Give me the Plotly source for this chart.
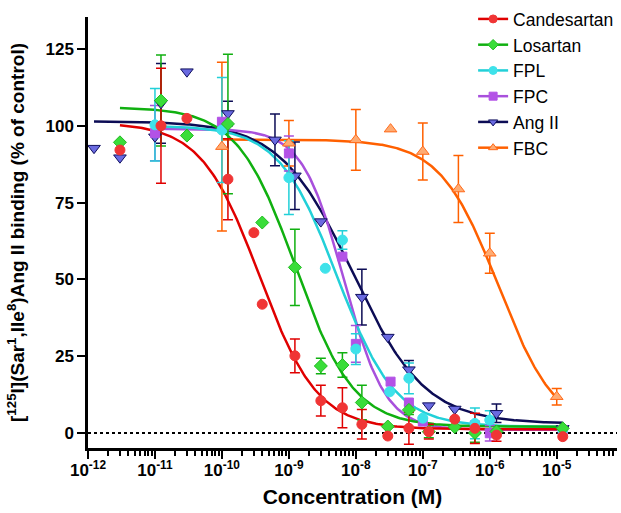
import numpy as np
import plotly.graph_objects as go

# ---------------- data ----------------
series_names = ["Candesartan", "Losartan", "FPL", "FPC", "Ang II", "FBC"]

cand_conc = [3.0e-12, 1.23e-11, 3.0e-11, 1.23e-10, 3.0e-10, 4.0e-10, 1.23e-9, 3.0e-9, 6.3e-9,
             1.23e-8, 3.0e-8, 6.2e-8, 1.23e-7, 3.0e-7, 6.0e-7, 1.26e-6, 1.23e-5]
cand_y = [92.1, 100.0, 102.4, 82.6, 65.2, 41.9, 25.1, 10.5, 8.2, 2.8, -1.0, 1.5, 0.4, 4.5, 1.5, -0.7, -1.2]
cand_err = [None, 18.7, None, 13.2, None, None, 5.5, 5.0, 6.5, 4.8, None, 5.2, 2.4, None, 4.9, 2.0, None]

los_conc = [3.0e-12, 1.23e-11, 3.0e-11, 1.23e-10, 4.0e-10, 1.23e-9, 3.0e-9, 6.3e-9, 1.23e-8,
            3.0e-8, 6.2e-8, 1.23e-7, 3.0e-7, 6.0e-7, 1.26e-6, 1.23e-5]
los_y = [94.6, 108.2, 96.8, 100.6, 68.5, 53.9, 21.8, 22.1, 9.9, 2.1, 7.5, 0.4, 1.9, 0.0, 0.5, 1.5]
los_err = [None, 14.8, None, 22.7, None, 12.4, 2.5, 4.0, 5.6, None, 1.5, 2.0, None, 3.0, None, None]

fpl_conc = [1.0e-11, 1.0e-10, 1.0e-9, 3.5e-9, 6.3e-9, 1.0e-8, 3.2e-8, 6.2e-8, 1.0e-7, 6.0e-7, 1.0e-6, 1.23e-5]
fpl_y = [100.3, 98.6, 83.1, 53.6, 62.8, 27.3, 13.4, 17.8, 4.8, 3.1, 4.2, 1.0]
fpl_err = [11.8, 17.1, 12.0, None, 3.0, 5.0, None, 5.0, None, 5.0, 3.0, None]

fpc_conc = [1.0e-11, 1.0e-10, 1.0e-9, 6.3e-9, 1.0e-8, 3.3e-8, 6.2e-8, 1.0e-7, 6.0e-7, 1.0e-6, 1.23e-5]
fpc_y = [97.6, 101.3, 91.0, 57.4, 29.0, 16.7, 9.9, 3.7, 2.5, -0.1, 1.0]
fpc_err = [9.0, None, 5.7, None, 6.0, None, None, None, None, 2.5, None]

ang_conc = [1.23e-12, 3.0e-12, 1.0e-11, 1.23e-11, 3.0e-11, 1.23e-10, 6.2e-10, 1.23e-9, 3.0e-9,
            1.23e-8, 3.0e-8, 6.2e-8, 1.23e-7, 3.0e-7, 1.26e-6, 1.23e-5]
ang_y = [92.7, 89.6, 96.4, 107.3, 117.6, 104.0, 95.4, 83.7, 68.8, 44.2, 31.2, 20.6, 8.9, 7.8, 6.4, 1.5]
ang_err = [None, None, None, 13.0, None, 4.0, 8.4, 11.0, None, 9.1, None, 3.0, None, None, 3.0, None]

fbc_conc = [1.0e-10, 1.0e-9, 1.0e-8, 3.3e-8, 1.0e-7, 3.4e-7, 1.0e-6, 1.0e-5]
fbc_y = [93.2, 94.3, 95.4, 98.9, 91.6, 79.4, 58.5, 11.8]
fbc_err = [27.5, 7.4, 9.85, None, 9.3, 10.9, 6.5, 2.7]

# fitted one-site competition curves (parameters)
fit_top = [101.0, 106.0, 100.0, 99.0, 101.5, 95.5]
fit_bottom = [1.2, 2.0, 2.0, 1.0, 3.0, 0.0]
fit_logic50 = [-9.44, -8.90, -8.28, -8.18, -8.05, -5.87]
fit_hill = [1.0, 1.0, 1.0, 1.4, 0.8, 1.0]

x_tick_vals = [1e-12, 1e-11, 1e-10, 1e-9, 1e-8, 1e-7, 1e-6, 1e-5]
x_tick_text = ["10<sup>-12</sup>", "10<sup>-11</sup>", "10<sup>-10</sup>", "10<sup>-9</sup>",
               "10<sup>-8</sup>", "10<sup>-7</sup>", "10<sup>-6</sup>", "10<sup>-5</sup>"]
y_tick_vals = [0, 25, 50, 75, 100, 125]

# ---------------- styles ----------------
concs = [cand_conc, los_conc, fpl_conc, fpc_conc, ang_conc, fbc_conc]
ys = [cand_y, los_y, fpl_y, fpc_y, ang_y, fbc_y]
errs = [cand_err, los_err, fpl_err, fpc_err, ang_err, fbc_err]
line_colors = ["#e00000", "#10b010", "#22d0d8", "#a850dc", "#0c0c55", "#ff6000"]
fill_colors = ["#f03535", "#3add3a", "#3ee2ea", "#b352e6", "#6a6ae0", "#ffab72"]
edge_colors = ["#f03535", "#22bb22", "#3ee2ea", "#b352e6", "#10105e", "#ff6a1a"]
symbols = ["circle", "diamond", "circle", "square", "triangle-down", "triangle-up"]
sizes = [10, 10, 10, 9, 11, 11]

FONT = "Arial, Liberation Sans, Helvetica, sans-serif"

fig = go.Figure()

draw_order = [5, 4, 3, 2, 1, 0]
for i in draw_order:
    c = np.array(concs[i])
    lx = np.linspace(np.log10(c.min()), np.log10(c.max()), 300)
    yc = fit_bottom[i] + (fit_top[i] - fit_bottom[i]) / (1 + 10 ** ((lx - fit_logic50[i]) * fit_hill[i]))
    fig.add_trace(go.Scatter(x=10 ** lx, y=yc, mode="lines",
                             line=dict(color=line_colors[i], width=2.5),
                             showlegend=False, hoverinfo="skip"))
for i in draw_order:
    ex = [x for x, e in zip(concs[i], errs[i]) if e is not None]
    ey = [y for y, e in zip(ys[i], errs[i]) if e is not None]
    ee = [e for e in errs[i] if e is not None]
    fig.add_trace(go.Scatter(x=ex, y=ey, mode="markers",
                             marker=dict(size=1, opacity=0),
                             error_y=dict(type="data", array=ee, visible=True,
                                          color=line_colors[i], thickness=1.5, width=5),
                             showlegend=False, hoverinfo="skip"))
for i in draw_order:
    fig.add_trace(go.Scatter(x=concs[i], y=ys[i], mode="markers",
                             marker=dict(symbol=symbols[i], size=sizes[i], color=fill_colors[i],
                                         line=dict(color=edge_colors[i], width=1)),
                             showlegend=False, name=series_names[i]))
# legend entries
for i in range(6):
    fig.add_trace(go.Scatter(x=[None], y=[None], mode="lines+markers", name=series_names[i],
                             line=dict(color=line_colors[i], width=2.5),
                             marker=dict(symbol=symbols[i], size=8, color=fill_colors[i],
                                         line=dict(color=edge_colors[i], width=1)),
                             legendrank=i + 1))

minor_vals = [k * 10.0 ** n for n in range(-12, -4) for k in range(2, 10)]

fig.update_layout(
    width=621, height=513,
    margin=dict(l=88, r=4, t=17, b=65, autoexpand=False),
    paper_bgcolor="white", plot_bgcolor="white",
    font=dict(family=FONT, color="black"),
    showlegend=True,
    legend=dict(x=0.728, y=1.037, xanchor="left", yanchor="top",
                font=dict(family=FONT, size=17.5, color="black"),
                bgcolor="rgba(0,0,0,0)", borderwidth=0, tracegroupgap=0),
    xaxis=dict(type="log", range=[-12, -4.1], showgrid=False, zeroline=False,
               automargin=False,
               showline=True, linewidth=2.5, linecolor="black",
               ticks="outside", ticklen=8, tickwidth=2, tickcolor="black",
               tickvals=x_tick_vals, ticktext=x_tick_text, ticklabelstandoff=-3,
               tickfont=dict(family=FONT, size=17, weight="bold"),
               minor=dict(tickvals=minor_vals, ticks="outside", ticklen=5, tickwidth=2,
                          tickcolor="black", showgrid=False),
               title=dict(text="Concentration (M)", standoff=11,
                          font=dict(family=FONT, size=21, weight="bold"))),
    yaxis=dict(range=[-4.9, 135.4], showgrid=False, zeroline=False,
               automargin=False,
               showline=True, linewidth=2.5, linecolor="black",
               ticks="outside", ticklen=8, tickwidth=2, tickcolor="black",
               tickvals=y_tick_vals,
               tickfont=dict(family=FONT, size=17, weight="bold"),
               title=dict(text="[<sup>125</sup>I](Sar<sup>1</sup>,Ile<sup>8</sup>)Ang II binding (% of control)",
                          standoff=16, font=dict(family=FONT, size=19, weight="bold"))),
    shapes=[dict(type="line", xref="paper", x0=0, x1=1, yref="y", y0=0, y1=0,
                 line=dict(color="black", width=2, dash="dot"), layer="below")],
)

fig.write_html("out.html", config={"displayModeBar": False},
               post_script="document.body.style.margin='0px';")
